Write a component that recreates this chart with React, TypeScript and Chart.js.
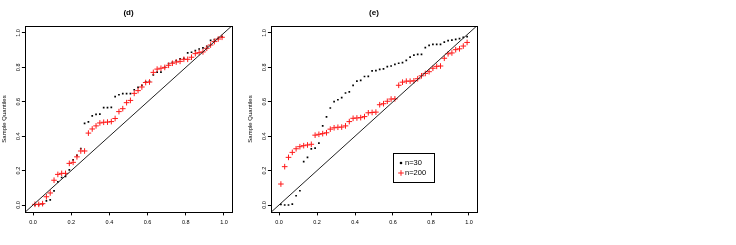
import React, { useEffect, useRef } from "react";
import { Chart, registerables } from "chart.js";
Chart.register(...registerables);

// ---------- data ----------
const theoreticalQuantiles = [
  0.01, 0.03, 0.05, 0.07, 0.09, 0.11, 0.13, 0.15, 0.17, 0.19,
  0.21, 0.23, 0.25, 0.27, 0.29, 0.31, 0.33, 0.35, 0.37, 0.39,
  0.41, 0.43, 0.45, 0.47, 0.49, 0.51, 0.53, 0.55, 0.57, 0.59,
  0.61, 0.63, 0.65, 0.67, 0.69, 0.71, 0.73, 0.75, 0.77, 0.79,
  0.81, 0.83, 0.85, 0.87, 0.89, 0.91, 0.93, 0.95, 0.97, 0.99,
];

const panelD_n30 = [
  0.0, 0.002, 0.005, 0.024, 0.03, 0.082, 0.135, 0.16, 0.167, 0.204,
  0.262, 0.288, 0.328, 0.475, 0.483, 0.518, 0.527, 0.528, 0.566, 0.566,
  0.568, 0.63, 0.641, 0.647, 0.647, 0.647, 0.67, 0.684, 0.696, 0.716,
  0.719, 0.756, 0.773, 0.773, 0.8, 0.822, 0.83, 0.839, 0.85, 0.853,
  0.884, 0.888, 0.897, 0.907, 0.913, 0.922, 0.957, 0.961, 0.969, 0.977,
];

const panelD_n200 = [
  0.004, 0.004, 0.008, 0.048, 0.07, 0.144, 0.178, 0.184, 0.184, 0.242,
  0.248, 0.28, 0.314, 0.314, 0.418, 0.442, 0.46, 0.477, 0.481, 0.482,
  0.485, 0.503, 0.543, 0.56, 0.595, 0.608, 0.649, 0.665, 0.686, 0.712,
  0.715, 0.771, 0.79, 0.795, 0.8, 0.812, 0.824, 0.831, 0.835, 0.847,
  0.847, 0.859, 0.88, 0.886, 0.89, 0.911, 0.93, 0.95, 0.965, 0.975,
];

const panelE_n30 = [
  0.004, 0.0, 0.0, 0.005, 0.054, 0.083, 0.252, 0.277, 0.326, 0.331,
  0.36, 0.46, 0.512, 0.564, 0.601, 0.612, 0.624, 0.651, 0.658, 0.696,
  0.72, 0.725, 0.747, 0.748, 0.78, 0.781, 0.788, 0.791, 0.805, 0.808,
  0.818, 0.824, 0.828, 0.841, 0.86, 0.871, 0.876, 0.876, 0.915, 0.928,
  0.934, 0.934, 0.934, 0.947, 0.955, 0.958, 0.963, 0.967, 0.974, 0.979,
];

const panelE_n200 = [
  0.122, 0.223, 0.277, 0.306, 0.327, 0.339, 0.345, 0.349, 0.353, 0.406,
  0.411, 0.415, 0.42, 0.441, 0.449, 0.452, 0.453, 0.46, 0.485, 0.504,
  0.506, 0.508, 0.514, 0.536, 0.538, 0.54, 0.583, 0.589, 0.603, 0.616,
  0.617, 0.696, 0.714, 0.72, 0.72, 0.722, 0.734, 0.751, 0.765, 0.775,
  0.795, 0.806, 0.808, 0.853, 0.879, 0.884, 0.903, 0.908, 0.924, 0.945,
];

const axisTicks = [0, 0.2, 0.4, 0.6, 0.8, 1.0];
const axisLimits = [-0.04, 1.04];
const referenceLine = [-0.04, 1.04];
const seriesLabels = ["n=30", "n=200"];
const panelTitles = ["(d)", "(e)"];
const yAxisTitle = "Sample Quantiles";
const legendAnchor = [0.6, 0.3];

// ---------- layout / style ----------
const FONT = "'Liberation Sans', Arial, Helvetica, sans-serif";
const CANVAS_H = 245;
const PLOT_TOP = 26.1;
const PLOT_BOTTOM = 211.9;
const Y_AXIS_W = 25.4;

type PanelProps = {
  title: string;
  small: number[];
  large: number[];
  left: number;
  width: number;
  plotRight: number;
  showLegend: boolean;
};

function Panel({ title, small, large, left, width, plotRight, showLegend }: PanelProps) {
  const ref = useRef<HTMLCanvasElement | null>(null);

  useEffect(() => {
    const canvas = ref.current;
    if (!canvas) return;

    const decorPlugin = {
      id: "decor",
      afterDraw(chart: any) {
        const ctx = chart.ctx;
        const a = chart.chartArea;
        ctx.save();
        // box
        ctx.strokeStyle = "#000";
        ctx.lineWidth = 1;
        ctx.strokeRect(Math.round(a.left) + 0.5, Math.round(a.top) + 0.5,
          Math.round(a.right) - Math.round(a.left), Math.round(a.bottom) - Math.round(a.top));
        // title
        ctx.fillStyle = "#000";
        ctx.font = `bold 8px ${FONT}`;
        ctx.textAlign = "center";
        ctx.textBaseline = "middle";
        ctx.fillText(title, (a.left + a.right) / 2, 13);

        if (showLegend) {
          const xs = chart.scales.x;
          const ys = chart.scales.y;
          const lx = Math.round(xs.getPixelForValue(legendAnchor[0])) + 0.5;
          const ly = Math.round(ys.getPixelForValue(legendAnchor[1])) + 0.5;
          const w = 41;
          const h = 29;
          ctx.strokeStyle = "#000";
          ctx.lineWidth = 1;
          ctx.strokeRect(lx, ly, w, h);
          ctx.font = `7.5px ${FONT}`;
          ctx.textAlign = "left";
          ctx.textBaseline = "middle";
          const r1 = ly + 9.5;
          const r2 = ly + 19.5;
          ctx.fillStyle = "#000";
          ctx.beginPath();
          ctx.arc(lx + 7.5, r1, 1.3, 0, Math.PI * 2);
          ctx.fill();
          ctx.fillText(seriesLabels[0], lx + 11.5, r1);
          ctx.strokeStyle = "#ff1a1a";
          ctx.beginPath();
          ctx.moveTo(lx + 7.5 - 2.8, r2);
          ctx.lineTo(lx + 7.5 + 2.8, r2);
          ctx.moveTo(lx + 7.5, r2 - 2.8);
          ctx.lineTo(lx + 7.5, r2 + 2.8);
          ctx.stroke();
          ctx.fillStyle = "#000";
          ctx.fillText(seriesLabels[1], lx + 11.5, r2);
        }
        ctx.restore();
      },
    };

    const tickFont = { family: FONT, size: 5.5 };
    const chart = new Chart(canvas, {
      type: "scatter",
      data: {
        datasets: [
          {
            label: "reference",
            type: "line",
            data: referenceLine.map((v) => ({ x: v, y: v })),
            borderColor: "#222",
            borderWidth: 1,
            pointRadius: 0,
            order: 0,
          } as any,
          {
            label: seriesLabels[1],
            data: theoreticalQuantiles.map((x, i) => ({ x, y: large[i] })),
            pointStyle: "cross",
            pointRadius: 2.8,
            borderColor: "#ff1a1a",
            backgroundColor: "#ff1a1a",
            borderWidth: 1,
            order: 1,
          },
          {
            label: seriesLabels[0],
            data: theoreticalQuantiles.map((x, i) => ({ x, y: small[i] })),
            pointStyle: "rect",
            pointRadius: 1.2,
            borderColor: "#000",
            backgroundColor: "#000",
            borderWidth: 0,
            order: 2,
          },
        ],
      },
      options: {
        responsive: false,
        animation: false,
        events: [],
        layout: { padding: { top: PLOT_TOP, left: 0, right: width - plotRight, bottom: 0 } },
        plugins: {
          legend: { display: false },
          title: { display: false },
          tooltip: { enabled: false },
        },
        scales: {
          x: {
            type: "linear",
            min: axisLimits[0],
            max: axisLimits[1],
            afterBuildTicks: (s: any) => {
              s.ticks = axisTicks.map((v) => ({ value: v }));
            },
            afterFit: (s: any) => {
              s.height = CANVAS_H - PLOT_BOTTOM;
            },
            grid: {
              display: true,
              drawOnChartArea: false,
              drawTicks: true,
              tickLength: 3.5,
              color: "#000",
              tickColor: "#000",
              lineWidth: 1,
            },
            border: { display: false },
            ticks: {
              font: tickFont,
              color: "#000",
              padding: 3.5,
              maxRotation: 0,
              minRotation: 0,
              autoSkip: false,
              callback: (v: any) => Number(v).toFixed(1),
            },
          },
          y: {
            type: "linear",
            min: axisLimits[0],
            max: axisLimits[1],
            afterBuildTicks: (s: any) => {
              s.ticks = axisTicks.map((v) => ({ value: v }));
            },
            afterFit: (s: any) => {
              s.width = Y_AXIS_W;
            },
            grid: {
              display: true,
              drawOnChartArea: false,
              drawTicks: true,
              tickLength: 3.5,
              color: "#000",
              tickColor: "#000",
              lineWidth: 1,
            },
            border: { display: false },
            title: {
              display: true,
              text: yAxisTitle,
              font: { family: FONT, size: 6 },
              color: "#000",
              padding: { top: 0.8, bottom: 0 },
            },
            ticks: {
              font: tickFont,
              color: "#000",
              padding: 0,
              minRotation: 90,
              maxRotation: 90,
              crossAlign: "center",
              autoSkip: false,
              callback: (v: any) => Number(v).toFixed(1),
            },
          },
        },
      } as any,
      plugins: [decorPlugin],
    });
    return () => chart.destroy();
  }, [title, small, large, width, plotRight, showLegend]);

  return (
    <canvas
      ref={ref}
      width={width}
      height={CANVAS_H}
      style={{ position: "absolute", left, top: 0, width, height: CANVAS_H }}
    />
  );
}

export default function App() {
  useEffect(() => {
    document.body.style.margin = "0";
  }, []);
  return (
    <div style={{ position: "relative", width: 736, height: 245, background: "#fff" }}>
      <Panel title={panelTitles[0]} small={panelD_n30} large={panelD_n200}
        left={0} width={240} plotRight={231.6} showLegend={false} />
      <Panel title={panelTitles[1]} small={panelE_n30} large={panelE_n200}
        left={246.3} width={240} plotRight={230.6} showLegend={true} />
    </div>
  );
}
